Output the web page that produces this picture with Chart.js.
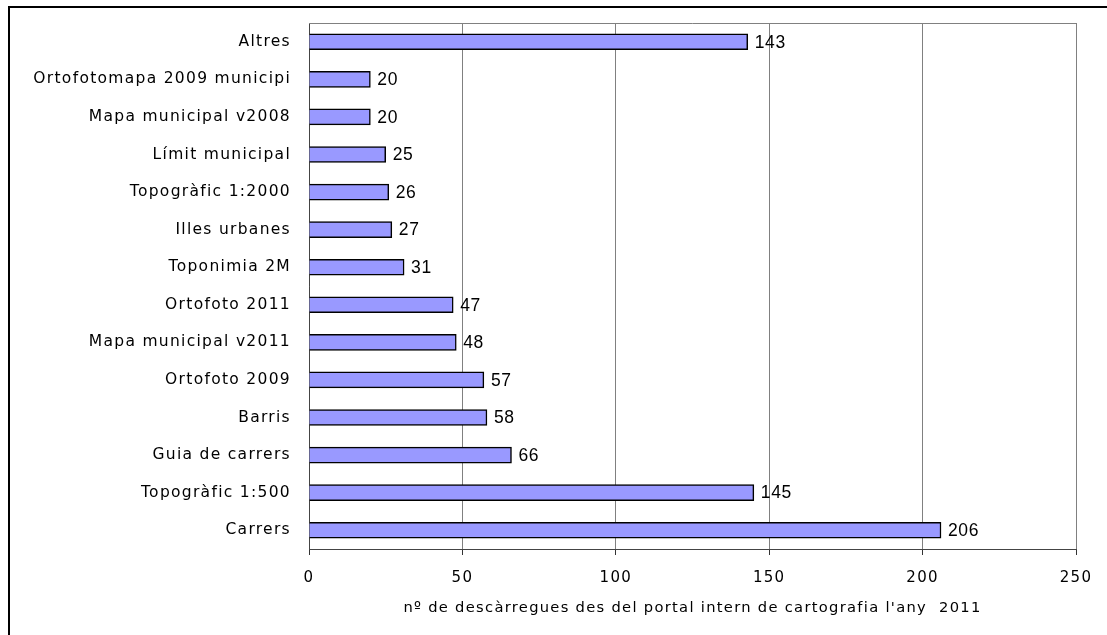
<!DOCTYPE html>
<html>
<head>
<meta charset="utf-8">
<script src="https://cdn.jsdelivr.net/npm/chart.js@4.4.1/dist/chart.umd.min.js"></script>
<style>
  html, body { margin: 0; padding: 0; background: #fff; }
  #wrap { position: absolute; left: 0; top: 0; width: 1107px; height: 635px; }
</style>
</head>
<body>
<div id="wrap"><canvas id="grafic"></canvas></div>
<script>
// dades (de dalt a baix)
const categories = ['Altres', 'Ortofotomapa 2009 municipi', 'Mapa municipal v2008', 'Límit municipal',
    'Topogràfic 1:2000', 'Illes urbanes', 'Toponimia 2M', 'Ortofoto 2011', 'Mapa municipal v2011',
    'Ortofoto 2009', 'Barris', 'Guia de carrers', 'Topogràfic 1:500', 'Carrers'];
const descarregues = [143, 20, 20, 25, 26, 27, 31, 47, 48, 57, 58, 66, 145, 206];
const ticksX = [0, 50, 100, 150, 200, 250];
const titolX = "nº de descàrregues des del portal intern de cartografia l'any  2011";

const FONT = "'DejaVu Sans', Verdana, sans-serif";

// espaiat de lletres com a l'original
const espaiat = {
    id: 'espaiat',
    beforeDraw(chart) { chart.ctx.letterSpacing = '1.3px'; },
    afterDraw(chart) { chart.ctx.letterSpacing = '0px'; }
};

// vora gris de l'àrea del gràfic i marc exterior
const marcs = {
    id: 'marcs',
    beforeDatasetsDraw(chart) {
        const { ctx, chartArea: a } = chart;
        ctx.save();
        ctx.strokeStyle = '#808080';
        ctx.lineWidth = 1;
        ctx.beginPath();
        ctx.moveTo(a.left, a.top + 0.5);
        ctx.lineTo(a.right + 0.5, a.top + 0.5);
        ctx.lineTo(a.right + 0.5, a.bottom);
        ctx.stroke();
        ctx.restore();
    },
    afterDraw(chart) {
        const ctx = chart.ctx;
        ctx.save();
        ctx.fillStyle = '#000';
        ctx.fillRect(8, 6, 2, 629);
        ctx.fillRect(8, 6, 1099, 2);
        ctx.restore();
    }
};

// valors al costat de cada barra
const etiquetes = {
    id: 'etiquetes',
    afterDatasetsDraw(chart) {
        const ctx = chart.ctx;
        const meta = chart.getDatasetMeta(0);
        ctx.save();
        ctx.letterSpacing = '0.6px';
        ctx.font = "17.5px 'Liberation Sans', Arial, sans-serif";
        ctx.fillStyle = '#000';
        ctx.textAlign = 'left';
        ctx.textBaseline = 'middle';
        meta.data.forEach((bar, i) => {
            ctx.fillText(String(descarregues[i]), bar.x + 7, bar.y + 1);
        });
        ctx.restore();
    }
};

new Chart(document.getElementById('grafic'), {
    type: 'bar',
    data: {
        labels: categories,
        datasets: [{
            data: descarregues,
            backgroundColor: '#9999ff',
            borderColor: '#000',
            borderWidth: 1.5,
            barThickness: 16
        }]
    },
    options: {
        indexAxis: 'y',
        responsive: true,
        maintainAspectRatio: false,
        animation: false,
        layout: { padding: { top: 23, right: 31, left: 0, bottom: 0 } },
        plugins: { legend: { display: false }, tooltip: { enabled: false } },
        scales: {
            x: {
                min: 0,
                max: 250,
                afterBuildTicks(scale) { scale.ticks = ticksX.map(v => ({ value: v })); },
                afterFit(scale) { scale.height = 86; scale.paddingLeft = 0; scale.paddingRight = 0; },
                ticks: { color: '#000', font: { family: FONT, size: 15 }, padding: 14, maxRotation: 0 },
                grid: { color: '#808080', tickColor: '#333', tickLength: 6, lineWidth: 1 },
                border: { color: '#444', width: 1 },
                title: {
                    display: true,
                    text: titolX,
                    color: '#000',
                    font: { family: FONT, size: 14.7 },
                    padding: { top: 0, bottom: 18 }
                }
            },
            y: {
                afterFit(scale) { scale.width = 309; scale.paddingTop = 0; scale.paddingBottom = 0; },
                ticks: { color: '#000', font: { family: FONT, size: 15.5 }, padding: 18, autoSkip: false },
                grid: { display: false, drawTicks: false },
                border: { color: '#444', width: 1 }
            }
        }
    },
    plugins: [espaiat, marcs, etiquetes]
});
</script>
</body>
</html>
